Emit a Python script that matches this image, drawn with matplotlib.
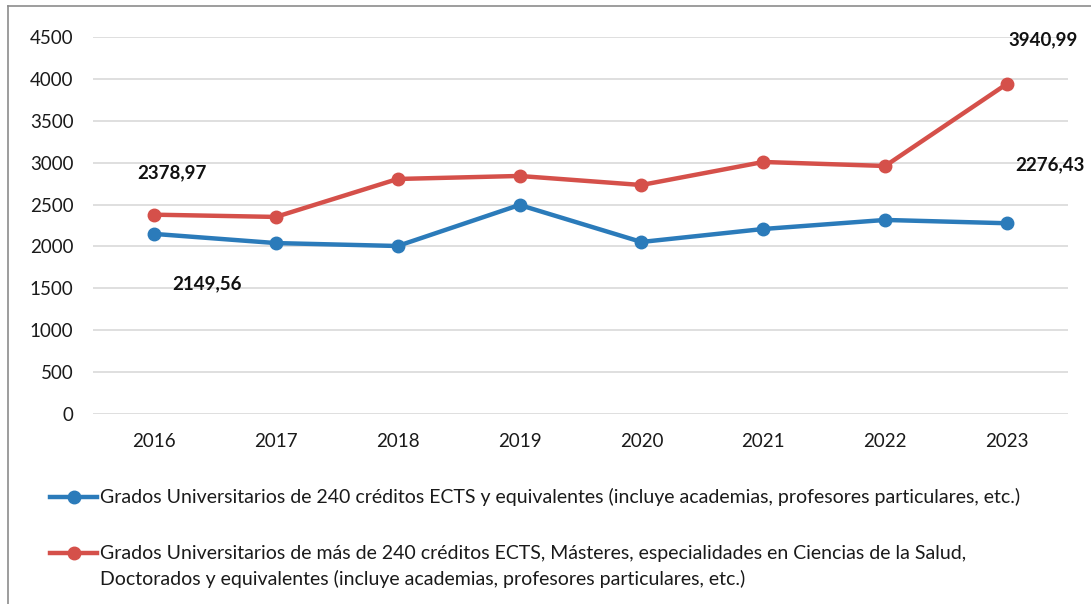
import matplotlib
matplotlib.use("Agg")
from matplotlib import pyplot as plt
from matplotlib.lines import Line2D

years = ["2016", "2017", "2018", "2019", "2020", "2021", "2022", "2023"]
grados_240 = [2149.56, 2040, 2005, 2495, 2053, 2208, 2316, 2276.43]
grados_mas_240 = [2378.97, 2352, 2805, 2841, 2733, 3008, 2960, 3940.99]

label_240 = ("Grados Universitarios de 240 créditos ECTS y equivalentes "
             "(incluye academias, profesores particulares, etc.)")
label_mas_1 = "Grados Universitarios de más de 240 créditos ECTS, Másteres, especialidades en Ciencias de la Salud,"
label_mas_2 = "Doctorados y equivalentes (incluye academias, profesores particulares, etc.)"

blue = "#2B7BBA"
red = "#D5504A"

plt.rcParams["font.family"] = ["Lato", "DejaVu Sans"]
fig = plt.figure(figsize=(10.91, 6.04), dpi=100)
ax = fig.add_axes([0.0852, 0.3146, 0.8937, 0.6242])

x = range(len(years))
ax.plot(x, grados_240, color=blue, lw=3.2, marker="o", ms=9, zorder=3)
ax.plot(x, grados_mas_240, color=red, lw=3.2, marker="o", ms=9, zorder=3)

ax.set_xlim(-0.5, len(years) - 0.5)
ax.set_ylim(0, 4500)
ax.set_yticks(range(0, 4501, 500))
ax.set_xticks(list(x))
ax.set_xticklabels(years)
ax.tick_params(axis="y", length=0, pad=14, labelsize=13.5, colors="#1a1a1a")
ax.tick_params(axis="x", length=0, pad=14, labelsize=13.5, colors="#1a1a1a")
ax.grid(axis="y", color="#d9d9d9", lw=1.2)
ax.set_axisbelow(True)
for s in ax.spines.values():
    s.set_visible(False)

# value labels
ann = dict(fontsize=13.5, fontweight="bold", ha="center", va="center",
           textcoords="offset points", color="#111111")
ax.annotate("2378,97", (0, grados_mas_240[0]), xytext=(13, 30), **ann)
ax.annotate("2149,56", (0, grados_240[0]), xytext=(38, -36), **ann)
ax.annotate("3940,99", (7, grados_mas_240[-1]), xytext=(26, 32), **ann)
ax.annotate("2276,43", (7, grados_240[-1]), xytext=(31, 42), **ann)

# legend drawn in figure coords
W, H = 1091, 604
def fx(px):
    return px / W
def fy(py):
    return 1 - py / H

for yy, col in [(497, blue), (553, red)]:
    fig.add_artist(Line2D([fx(50), fx(97)], [fy(yy), fy(yy)], color=col, lw=3.2))
    fig.add_artist(Line2D([fx(73.5)], [fy(yy)], color=col, marker="o", ms=9, lw=0))
leg_txt = dict(fontsize=14, ha="left", va="center", color="#1a1a1a")
fig.text(fx(100), fy(497), label_240, **leg_txt)
fig.text(fx(100), fy(553), label_mas_1, **leg_txt)
fig.text(fx(100), fy(579), label_mas_2, **leg_txt)

# chart frame (left and top edges visible)
fig.add_artist(Line2D([fx(8), fx(8)], [0, fy(6)], color="#8c8c8c", lw=1.2))
fig.add_artist(Line2D([fx(8), 1], [fy(6), fy(6)], color="#8c8c8c", lw=1.2))

fig.savefig("out.png", dpi=100)
